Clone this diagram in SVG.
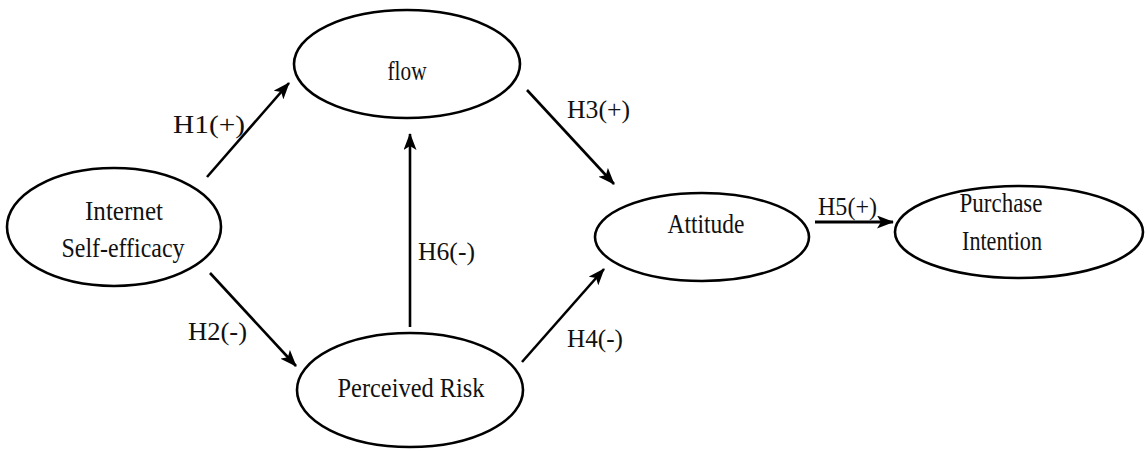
<svg xmlns="http://www.w3.org/2000/svg" width="1147" height="451" viewBox="0 0 1147 451">
<style>
.n{fill:#fff;stroke:#000;stroke-width:2.6}
.t{font-family:"Liberation Serif","Times New Roman",serif;font-size:27px;fill:#111;text-anchor:middle}
.l{font-family:"Liberation Serif","Times New Roman",serif;font-size:26px;fill:#111}
.c{stroke:#000;stroke-width:2.6;fill:none;marker-end:url(#ah)}
</style>
<defs>
<marker id="ah" viewBox="0 0 17 13" refX="16" refY="6.5" markerWidth="17" markerHeight="13" markerUnits="userSpaceOnUse" orient="auto">
<path d="M0,0 L17,6.5 L0,13 L4,6.5 Z" fill="#000"/>
</marker>
</defs>
<rect width="1147" height="451" fill="#fff"/>
<g id="connectors">
<line class="c" x1="207" y1="177" x2="289" y2="83"/>
<line class="c" x1="210" y1="273" x2="296" y2="366"/>
<line class="c" x1="410" y1="327" x2="410" y2="134"/>
<line class="c" x1="527" y1="90" x2="614" y2="184"/>
<line class="c" x1="522" y1="362" x2="604" y2="269"/>
<line class="c" x1="815" y1="222" x2="893" y2="222" style="stroke-width:3.2"/>
<text class="l" x="173" y="133" textLength="72" lengthAdjust="spacingAndGlyphs">H1(+)</text>
<text class="l" x="188" y="340" textLength="59" lengthAdjust="spacingAndGlyphs">H2(-)</text>
<text class="l" x="567" y="118" textLength="63" lengthAdjust="spacingAndGlyphs">H3(+)</text>
<text class="l" x="567" y="347" textLength="56" lengthAdjust="spacingAndGlyphs">H4(-)</text>
<text class="l" x="818" y="215" textLength="59" lengthAdjust="spacingAndGlyphs">H5(+)</text>
<text class="l" x="418" y="260" textLength="57" lengthAdjust="spacingAndGlyphs">H6(-)</text>
</g>
<g id="internet-self-efficacy">
<ellipse class="n" cx="114" cy="227" rx="107" ry="59"/>
<text class="t" x="124" y="220" textLength="78" lengthAdjust="spacingAndGlyphs">Internet</text>
<text class="t" x="123" y="257" textLength="123" lengthAdjust="spacingAndGlyphs">Self-efficacy</text>
</g>
<g id="flow">
<ellipse class="n" cx="407" cy="64" rx="113" ry="54"/>
<text class="t" x="407" y="80" textLength="39" lengthAdjust="spacingAndGlyphs">flow</text>
</g>
<g id="perceived-risk">
<ellipse class="n" cx="410" cy="390" rx="113" ry="57"/>
<text class="t" x="411" y="397" textLength="147" lengthAdjust="spacingAndGlyphs">Perceived  Risk</text>
</g>
<g id="attitude">
<ellipse class="n" cx="702" cy="237" rx="107" ry="44"/>
<text class="t" x="706" y="233" textLength="77" lengthAdjust="spacingAndGlyphs">Attitude</text>
</g>
<g id="purchase-intention">
<ellipse class="n" cx="1019" cy="232" rx="124" ry="46"/>
<text class="t" x="1001" y="212" textLength="83" lengthAdjust="spacingAndGlyphs">Purchase</text>
<text class="t" x="1002" y="250" textLength="80" lengthAdjust="spacingAndGlyphs">Intention</text>
</g>
</svg>
